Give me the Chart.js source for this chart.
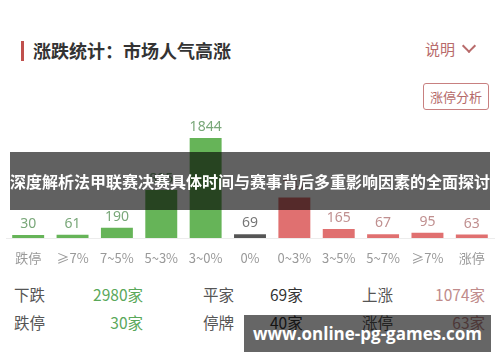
<!DOCTYPE html>
<html><head><meta charset="utf-8">
<script src="https://cdn.jsdelivr.net/npm/chart.js@4"></script>
<style>
html,body{margin:0;padding:0;background:#fff;width:500px;height:362px;overflow:hidden;font-family:"Noto Sans CJK SC","Noto Sans",sans-serif;}
.abs{position:absolute;white-space:nowrap;}
#wrap{position:absolute;left:0;top:110px;width:500px;height:160px;}
.row{font-size:15.5px;color:#555;line-height:20px;}
</style></head><body>
<div class="abs" style="left:21px;top:41px;width:3px;height:20px;background:#c0504d;"></div>
<div class="abs" style="left:33px;top:37px;font-size:18px;font-weight:bold;color:#333;line-height:26px;">涨跌统计：市场人气高涨</div>
<div class="abs" style="left:425px;top:39px;font-size:15px;color:#b86b6b;line-height:20px;">说明</div>
<div class="abs" style="left:464px;top:41px;width:8px;height:8px;border-right:2px solid #b86b6b;border-bottom:2px solid #b86b6b;transform:rotate(45deg);"></div>
<div class="abs" style="left:423px;top:83px;width:64px;height:25px;border:1px solid #c88080;border-radius:3px;font-size:13px;color:#b56a6a;line-height:25px;text-align:center;">涨停分析</div>
<div id="wrap"><canvas id="c"></canvas></div>

<div class="abs row" style="left:14px;top:284px;">下跌</div>
<div class="abs row" style="right:357px;top:284px;color:#5aa85a;">2980家</div>
<div class="abs row" style="left:203px;top:284px;">平家</div>
<div class="abs row" style="left:270px;top:284px;color:#333;">69家</div>
<div class="abs row" style="left:362px;top:284px;">上涨</div>
<div class="abs row" style="right:15px;top:284px;color:#c08b8b;">1074家</div>

<div class="abs row" style="left:14px;top:312px;">跌停</div>
<div class="abs row" style="right:357px;top:312px;color:#5aa85a;">30家</div>
<div class="abs row" style="left:203px;top:312px;">停牌</div>
<div class="abs row" style="left:270px;top:312px;color:#333;">40家</div>
<div class="abs row" style="left:362px;top:312px;">涨停</div>
<div class="abs row" style="right:15px;top:312px;color:#c08b8b;">63家</div>

<div class="abs" style="left:10px;top:152px;width:480px;height:58px;background:rgba(0,0,0,0.62);color:#fff;font-size:16px;font-weight:bold;line-height:58px;text-align:center;">深度解析法甲联赛决赛具体时间与赛事背后多重影响因素的全面探讨</div>
<div class="abs" style="left:244px;top:315px;width:247px;height:37px;background:rgba(0,0,0,0.6);color:#fff;font-family:'Open Sans',sans-serif;font-size:17px;font-weight:bold;line-height:37px;text-align:center;">www.online-pg-games.com</div>

<script>
const categories = ["跌停","≥7%","7~5%","5~3%","3~0%","0%","0~3%","3~5%","5~7%","≥7%","涨停"];
const values = [30, 61, 190, 885, 1844, 69, 747, 165, 67, 95, 63];
const barColors = ["#66b458","#66b458","#66b458","#66b458","#66b458","#555555","#e07070","#e07070","#e07070","#e07070","#e07070"];
const labelColors = ["#7aa87a","#7aa87a","#7aa87a","#7aa87a","#7aa87a","#777777","#c09090","#c09090","#c09090","#c09090","#c09090"];

const valueLabels = {
  id:'valueLabels',
  afterDatasetsDraw(chart){
    const ctx = chart.ctx;
    const meta = chart.getDatasetMeta(0);
    ctx.save();
    ctx.font = '14px "Noto Sans","Noto Sans CJK SC",sans-serif';
    ctx.textAlign = 'center';
    ctx.textBaseline = 'middle';
    meta.data.forEach((bar,i)=>{
      ctx.fillStyle = labelColors[i];
      ctx.fillText(String(values[i]), bar.x, bar.y - 11);
    });
    ctx.restore();
  }
};

new Chart(document.getElementById('c'), {
  type:'bar',
  data:{labels:categories, datasets:[{data:values, backgroundColor:barColors, barPercentage:0.72, categoryPercentage:1, minBarLength:3}]},
  options:{
    responsive:true, maintainAspectRatio:false, animation:false,
    layout:{padding:{left:6,right:6,top:0,bottom:0}},
    plugins:{legend:{display:false}, tooltip:{enabled:false}},
    scales:{
      y:{display:false, min:0, max:2360},
      x:{
        grid:{display:false, drawTicks:false},
        border:{display:true, color:'#ececec', width:1},
        ticks:{color:'#999', font:{size:13, family:'"Noto Sans CJK SC","Noto Sans",sans-serif'}, padding:12, maxRotation:0, autoSkip:false},
        afterFit(scale){ scale.height = 32; }
      }
    }
  },
  plugins:[valueLabels]
});
</script>
</body></html>
